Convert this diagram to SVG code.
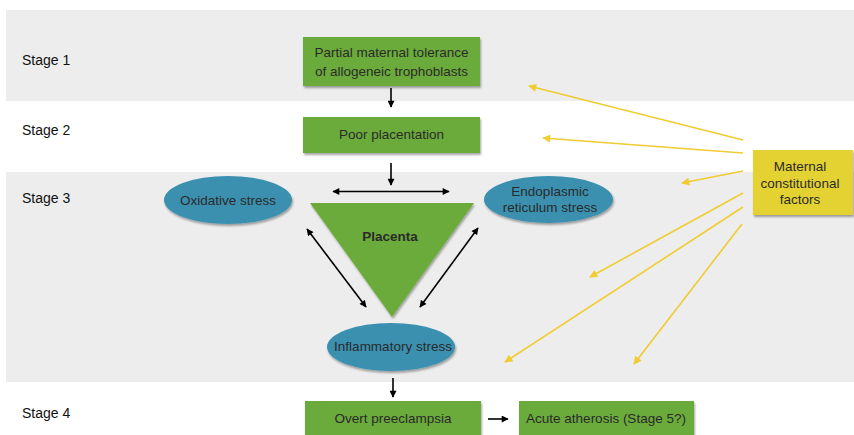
<svg xmlns="http://www.w3.org/2000/svg" width="854" height="435" viewBox="0 0 854 435">
<style>
.band{fill:#ededed}
.stage{font-family:"Liberation Sans",Arial,sans-serif;font-size:14px;fill:#111}
.lbl{font-family:"Liberation Sans",Arial,sans-serif;font-size:13.5px;fill:#2a2a2a;text-anchor:middle}
.bold{font-weight:bold}
.green{fill:#6aab3b}
.blue{fill:#3a90b0}
.yellow{fill:#e4d231}
.blk{stroke:#000;stroke-width:1.6;fill:none}
.yel{stroke:#f0cc30;stroke-width:1.6;fill:none}
</style>
<defs>
<filter id="sh" x="-10%" y="-10%" width="125%" height="135%">
<feDropShadow dx="1" dy="2" stdDeviation="1.2" flood-color="#000" flood-opacity="0.35"/>
</filter>
<marker id="ab" viewBox="0 0 10 10" refX="9" refY="5" markerWidth="8" markerHeight="7" orient="auto-start-reverse" markerUnits="userSpaceOnUse">
<path d="M0,0 L10,5 L0,10 Z" fill="#000"/>
</marker>
<marker id="ay" viewBox="0 0 10 10" refX="9" refY="5" markerWidth="9" markerHeight="8" orient="auto" markerUnits="userSpaceOnUse">
<path d="M0,0 L10,5 L0,10 Z" fill="#f0cc30"/>
</marker>
</defs>
<rect width="854" height="435" fill="#fff"/>
<rect class="band" x="6" y="10" width="848" height="91"/>
<rect class="band" x="6" y="172" width="848" height="210"/>
<text class="stage" x="22" y="65">Stage 1</text>
<text class="stage" x="22" y="135">Stage 2</text>
<text class="stage" x="22" y="203">Stage 3</text>
<text class="stage" x="22" y="418">Stage 4</text>

<g id="connectors">
<line class="blk" x1="391" y1="88" x2="391" y2="107" marker-end="url(#ab)"/>
<line class="blk" x1="391" y1="163" x2="391" y2="185" marker-end="url(#ab)"/>
<line class="blk" x1="333" y1="191.5" x2="449" y2="191.5" marker-start="url(#ab)" marker-end="url(#ab)"/>
<line class="blk" x1="307" y1="229" x2="366" y2="307" marker-start="url(#ab)" marker-end="url(#ab)"/>
<line class="blk" x1="478" y1="228" x2="420" y2="307" marker-start="url(#ab)" marker-end="url(#ab)"/>
<line class="blk" x1="393" y1="378" x2="393" y2="397" marker-end="url(#ab)"/>
<line class="blk" x1="488" y1="419" x2="508" y2="419" marker-end="url(#ab)"/>
<line class="yel" x1="743" y1="140" x2="529" y2="86" marker-end="url(#ay)"/>
<line class="yel" x1="743" y1="153" x2="543" y2="138" marker-end="url(#ay)"/>
<line class="yel" x1="743" y1="171" x2="682" y2="183" marker-end="url(#ay)"/>
<line class="yel" x1="743" y1="193" x2="590" y2="277" marker-end="url(#ay)"/>
<line class="yel" x1="743" y1="207" x2="505" y2="362" marker-end="url(#ay)"/>
<line class="yel" x1="742" y1="224" x2="634" y2="364" marker-end="url(#ay)"/>
</g>

<g id="n-stage1">
<rect class="green" x="303" y="37" width="177" height="49" filter="url(#sh)"/>
<text class="lbl" x="391.5" y="57">Partial maternal tolerance</text>
<text class="lbl" x="391.5" y="76">of allogeneic trophoblasts</text>
</g>
<g id="n-poor">
<rect class="green" x="303" y="117" width="177" height="36" filter="url(#sh)"/>
<text class="lbl" x="391.5" y="139">Poor placentation</text>
</g>
<g id="n-placenta">
<polygon class="green" points="310,203 474,203 392,317" filter="url(#sh)"/>
<text class="lbl bold" x="390" y="241">Placenta</text>
</g>
<g id="n-oxidative">
<ellipse class="blue" cx="228" cy="200" rx="64" ry="24" filter="url(#sh)"/>
<text class="lbl" x="228" y="205">Oxidative stress</text>
</g>
<g id="n-er">
<ellipse class="blue" cx="548.5" cy="199.5" rx="64.5" ry="23.5" filter="url(#sh)"/>
<text class="lbl" x="550" y="196">Endoplasmic</text>
<text class="lbl" x="550" y="212">reticulum stress</text>
</g>
<g id="n-inflammatory">
<ellipse class="blue" cx="391" cy="347" rx="64" ry="24" filter="url(#sh)"/>
<text class="lbl" x="393" y="351">Inflammatory stress</text>
</g>
<g id="n-overt">
<rect class="green" x="305" y="401" width="176" height="40" filter="url(#sh)"/>
<text class="lbl" x="393" y="423">Overt preeclampsia</text>
</g>
<g id="n-acute">
<rect class="green" x="519" y="401" width="175" height="40" filter="url(#sh)"/>
<text class="lbl" x="606" y="423">Acute atherosis (Stage 5?)</text>
</g>
<g id="n-maternal">
<rect class="yellow" x="753" y="150" width="100" height="65" filter="url(#sh)"/>
<text class="lbl" x="800" y="171">Maternal</text>
<text class="lbl" x="800" y="188">constitutional</text>
<text class="lbl" x="800" y="204">factors</text>
</g>
</svg>
